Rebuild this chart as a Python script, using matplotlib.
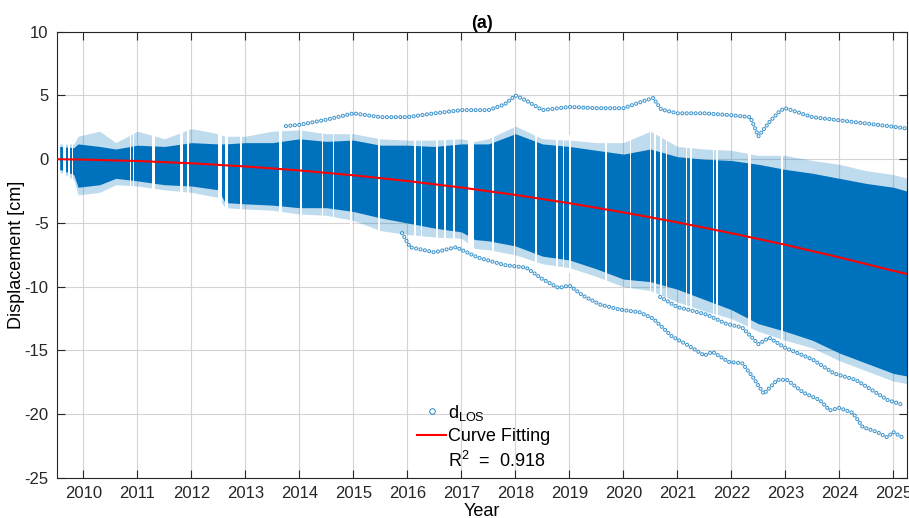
import numpy as np
import matplotlib
matplotlib.use("Agg")
import matplotlib.pyplot as plt
from matplotlib.lines import Line2D


# acquisition-time envelope of the LOS displacement cloud (cm)
band_years = [2009.56, 2009.82, 2009.9, 2010.3, 2010.6, 2011.0, 2011.5, 2012.0,
              2012.5, 2012.62, 2013.0, 2013.5, 2014.0, 2014.5, 2015.0, 2015.5,
              2016.0, 2016.5, 2017.0, 2017.25, 2017.5, 2018.0, 2018.5, 2019.0,
              2019.5, 2020.0, 2020.5, 2021.0, 2021.5, 2022.0, 2022.5, 2023.0,
              2023.5, 2024.0, 2024.5, 2025.0, 2025.25]
band_top = [1.0, 0.9, 1.2, 1.0, 0.8, 1.1, 1.0, 1.3,
            1.2, 1.2, 1.3, 1.3, 1.6, 1.4, 1.5, 1.1,
            1.1, 1.0, 1.2, 1.2, 1.2, 2.0, 1.2, 1.0,
            0.7, 0.4, 0.8, 0.2, 0.0, -0.1, -0.4, -0.8,
            -1.1, -1.5, -1.9, -2.2, -2.5]
band_bottom = [-0.8, -1.2, -2.2, -2.0, -1.5, -1.7, -2.0, -2.1,
               -2.4, -3.4, -3.5, -3.6, -3.8, -3.8, -4.1, -4.6,
               -5.0, -5.4, -5.7, -6.3, -6.4, -6.8, -7.6, -7.9,
               -8.6, -9.4, -9.6, -10.2, -11.0, -11.8, -12.9, -13.5,
               -14.2, -15.2, -16.0, -16.8, -17.0]
fringe_top = [1.2, 1.2, 1.8, 2.2, 1.3, 2.2, 1.6, 2.4,
              2.0, 1.8, 1.8, 2.2, 2.3, 2.0, 2.0, 1.6,
              1.5, 1.5, 1.6, 1.4, 1.6, 2.6, 1.6, 1.5,
              1.3, 1.3, 2.2, 1.0, 0.8, 0.7, 0.3, 0.3,
              -0.1, -0.4, -0.9, -1.2, -1.5]
fringe_bottom = [-1.0, -1.6, -2.8, -2.6, -2.0, -2.1, -2.4, -2.6,
                 -3.0, -3.8, -3.9, -4.0, -4.3, -4.4, -4.8, -5.6,
                 -5.9, -6.1, -6.2, -7.0, -7.1, -7.5, -8.2, -8.5,
                 -9.2, -10.0, -10.3, -11.2, -11.9, -12.5, -13.5, -14.2,
                 -14.8, -15.8, -16.6, -17.4, -17.6]

# dates without acquisitions (centre, width in years)
gap_years = [2009.645, 2009.73, 2009.80, 2010.87, 2010.93, 2011.30, 2011.82,
             2011.94, 2012.53, 2012.65, 2012.92, 2013.65, 2014.03, 2014.43,
             2014.63, 2014.95, 2015.47, 2016.14, 2016.26, 2016.55, 2016.70,
             2016.86, 2017.18, 2017.59, 2017.99, 2018.38, 2018.77, 2018.89,
             2019.01, 2019.68, 2020.13, 2020.50, 2020.59, 2020.695, 2020.80,
             2021.17, 2021.25, 2021.67, 2021.73, 2022.34, 2022.93]
gap_widths = [0.05, 0.05, 0.03, 0.03, 0.03, 0.05, 0.05,
              0.04, 0.07, 0.05, 0.03, 0.04, 0.05, 0.03,
              0.03, 0.03, 0.03, 0.03, 0.03, 0.03, 0.03,
              0.03, 0.11, 0.03, 0.02, 0.03, 0.03, 0.03,
              0.03, 0.03, 0.03, 0.03, 0.03, 0.04, 0.03,
              0.03, 0.03, 0.03, 0.03, 0.05, 0.04]

# isolated point tracks outside the main cloud
upper_years = [2013.75, 2014.0, 2014.5, 2015.0, 2015.5, 2016.0, 2016.5, 2017.0,
               2017.5, 2017.8, 2018.0, 2018.2, 2018.5, 2019.0, 2019.5, 2020.0,
               2020.4, 2020.55, 2020.7, 2021.0, 2021.5, 2022.0, 2022.35, 2022.5,
               2022.7, 2022.9, 2023.0, 2023.5, 2024.0, 2024.5, 2025.0, 2025.25]
upper_vals = [2.6, 2.7, 3.1, 3.6, 3.3, 3.3, 3.6, 3.85,
              3.85, 4.3, 5.0, 4.6, 3.85, 4.1, 4.0, 4.0,
              4.6, 4.8, 3.9, 3.6, 3.6, 3.45, 3.3, 1.8,
              2.9, 3.8, 4.0, 3.3, 3.05, 2.8, 2.55, 2.4]

low1_years = [2015.9, 2016.05, 2016.5, 2016.9, 2017.3, 2017.8, 2018.2, 2018.5,
              2018.8, 2019.0, 2019.25, 2019.57, 2019.94, 2020.3, 2020.55, 2020.9,
              2021.2, 2021.5, 2021.65, 2021.95, 2022.2, 2022.4, 2022.6, 2022.85,
              2023.03, 2023.33, 2023.64, 2023.82, 2024.0, 2024.25, 2024.43, 2024.7,
              2024.88, 2025.0, 2025.2]
low1_vals = [-5.8, -6.9, -7.3, -6.9, -7.7, -8.3, -8.5, -9.4,
             -10.1, -9.9, -10.7, -11.4, -11.8, -12.0, -12.5, -13.9,
             -14.6, -15.4, -15.1, -15.9, -16.0, -17.1, -18.4, -17.3,
             -17.3, -18.3, -18.9, -19.7, -19.5, -19.9, -21.0, -21.4,
             -21.8, -21.4, -21.9]

low2_years = [2020.68, 2021.0, 2021.2, 2021.55, 2021.9, 2022.2, 2022.5, 2022.7,
              2023.0, 2023.5, 2023.9, 2024.3, 2024.6, 2024.9, 2025.2]
low2_vals = [-10.8, -11.6, -11.8, -12.2, -12.9, -13.2, -14.5, -14.0,
             -14.8, -15.7, -16.8, -17.3, -18.1, -18.9, -19.3]

# fitted curve
fit_years = [2009.51, 2010, 2011, 2012, 2013, 2014, 2015, 2016, 2017, 2018,
             2019, 2020, 2021, 2022, 2023, 2024, 2025, 2025.25]
fit_vals = [0.0, -0.03, -0.14, -0.32, -0.57, -0.88, -1.26, -1.71, -2.22, -2.80,
            -3.45, -4.17, -4.95, -5.80, -6.71, -7.70, -8.75, -9.0]

year_ticks = list(range(2010, 2026))
disp_ticks = [-25, -20, -15, -10, -5, 0, 5, 10]

BLUE = "#0072BD"


def draw_track(ax, x, y):
    # chain of small open circles: blue dots with white centres
    ax.plot(x, y, color=BLUE, lw=3.0, ls=(0, (0.01, 3.2)),
            dash_capstyle="round", alpha=0.75, zorder=3)
    ax.plot(x, y, color="white", lw=1.5, ls=(0, (0.01, 3.2)),
            dash_capstyle="round", zorder=3.1)


def main():
    plt.rcParams["font.family"] = ["Liberation Sans", "DejaVu Sans"]
    plt.rcParams["mathtext.fontset"] = "custom"
    plt.rcParams["mathtext.rm"] = "Liberation Sans"
    plt.rcParams["mathtext.it"] = "Liberation Sans:italic"
    plt.rcParams["axes.unicode_minus"] = False
    plt.rcParams["lines.scale_dashes"] = False

    fig = plt.figure(figsize=(9.09, 5.18), dpi=100)
    ax = fig.add_axes([0.0627, 0.0772, 0.935, 0.8616])

    ax.fill_between(band_years, fringe_bottom, fringe_top, color=BLUE,
                    alpha=0.25, lw=0, zorder=1)
    ax.fill_between(band_years, band_bottom, band_top, color=BLUE,
                    lw=0, zorder=1.2)

    draw_track(ax, upper_years, upper_vals)
    draw_track(ax, low1_years, low1_vals)
    draw_track(ax, low2_years, low2_vals)

    gx = np.array(gap_years)
    g_lo = np.interp(gx, band_years, fringe_bottom) - 0.4
    g_hi = np.interp(gx, band_years, fringe_top) + 0.4
    ax.bar(gx, g_hi - g_lo, width=gap_widths, bottom=g_lo, color="white",
           lw=0, zorder=2)

    ax.plot(fit_years, fit_vals, color="red", lw=1.5, zorder=4)

    ax.set_xlim(2009.51, 2025.25)
    ax.set_ylim(-25, 10)
    ax.set_xticks(year_ticks)
    ax.set_yticks(disp_ticks)
    ax.grid(True, color="#d4d4d4", lw=0.8)
    ax.set_axisbelow(True)
    ax.tick_params(direction="in", length=6, width=0.8, top=True, right=True,
                   labelsize=12, colors="#262626", pad=6)
    for sp in ax.spines.values():
        sp.set_color("#262626")
        sp.set_linewidth(0.8)

    ax.set_title("(a)", fontsize=13, fontweight="bold", pad=3)
    ax.set_xlabel("Year", fontsize=13, labelpad=1)
    ax.set_ylabel("Displacement [cm]", fontsize=13, labelpad=0)

    handles = [
        Line2D([], [], ls="none", marker="o", ms=4, mfc="none", mec=BLUE,
               mew=0.6),
        Line2D([], [], color="red", lw=1.5),
        Line2D([], [], ls="none"),
    ]
    labels = [r"d$_{\mathrm{LOS}}$", "Curve Fitting", r"R$^2$  =  0.918"]
    ax.legend(handles, labels, loc="lower center",
              bbox_to_anchor=(0.502, -0.012), frameon=False, fontsize=13,
              handlelength=1.6, handletextpad=0.1, labelspacing=0.3,
              borderaxespad=0.3)

    plt.savefig("out.png", dpi=100)
    plt.close()


if __name__ == "__main__":
    main()
